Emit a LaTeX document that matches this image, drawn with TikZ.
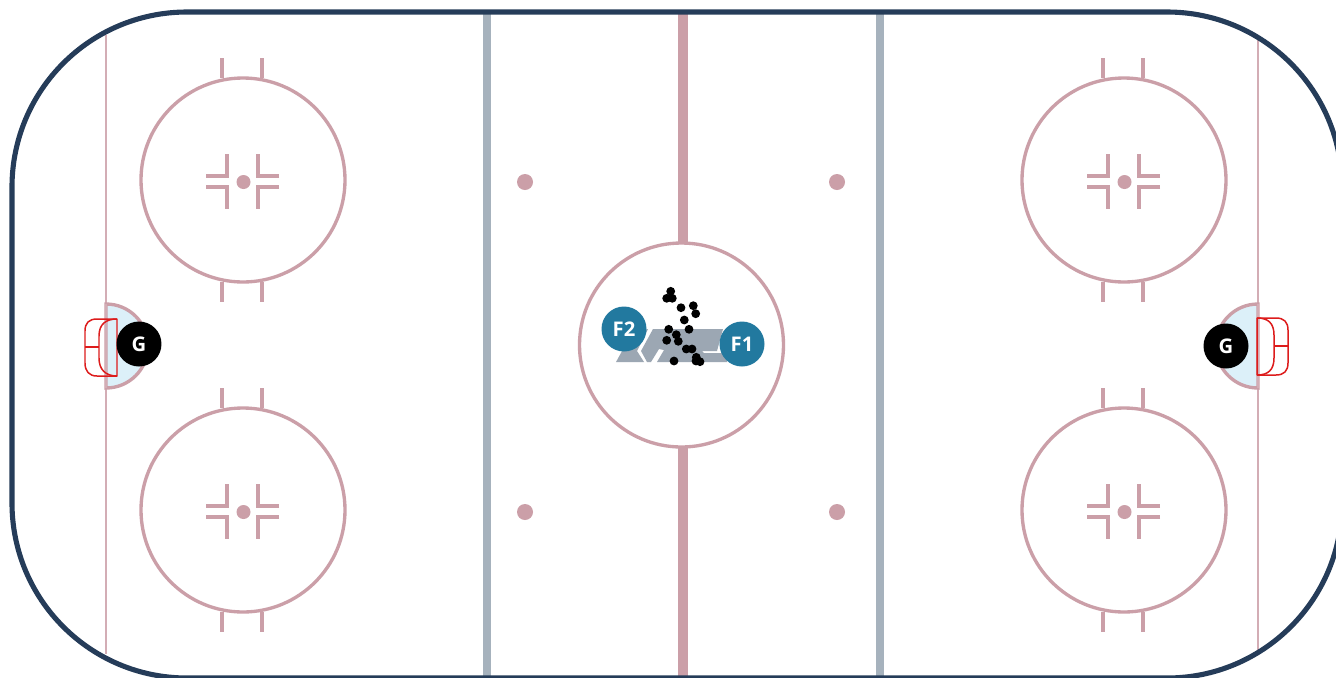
\documentclass[tikz,border=0pt]{standalone}
\usepackage{fontspec}
\setmainfont{Liberation Sans}
\setsansfont{Open Sans}
\definecolor{crink}{HTML}{CB9FA8}
\definecolor{cblueline}{HTML}{A6B2BD}
\definecolor{clogo}{HTML}{9CA7B3}
\definecolor{cboards}{HTML}{253C59}
\definecolor{ccrease}{HTML}{DCF0F9}
\definecolor{cnet}{HTML}{DD1C1C}
\definecolor{cforward}{HTML}{22799F}
\tikzset{
  every picture/.style={font=\sffamily, line width=0.9pt},
  rinkline/.style={draw=crink, line width=1.9pt},
  thinline/.style={draw=crink!85, line width=1.5pt},
  player/.style={circle, fill=#1, text=white, minimum size=0.9cm, inner sep=0pt, font=\sffamily\bfseries\fontsize{11.5}{12}\selectfont},
  player/.default=black,
  puck/.style={fill=black},
  net/.style={draw=cnet, line width=0.85pt, line join=round},
}
% one faceoff circle with its hash marks
\newcommand{\faceoffcircle}[2]{%
  \begin{scope}[shift={(#1,#2)}]
    \draw[rinkline] (0,0) circle (102);
    \draw[rinkline] (-21,-102) -- (-21,-122) (19,-102) -- (19,-122);
    \draw[rinkline] (-21,102) -- (-21,122) (19,102) -- (19,122);
    \fill[crink] (0.5,2) circle (7);
    \draw[rinkline] (-37,-4) -- (-16,-4) -- (-16,-26);
    \draw[rinkline] (36,-4) -- (15,-4) -- (15,-26);
    \draw[rinkline] (-37,7) -- (-16,7) -- (-16,29);
    \draw[rinkline] (36,7) -- (15,7) -- (15,29);
  \end{scope}}
\begin{document}
\begin{tikzpicture}[x=0.02cm, y=-0.02cm]
  \useasboundingbox (0,0) rectangle (1336,677);
  \clip (0,0) rectangle (1336,677);
  \fill[white] (0,0) rectangle (1336,677);
  % goal lines
  \draw[thinline] (106,35) -- (106,654);
  \draw[thinline] (1258,40) -- (1258,650);
  % blue and centre lines
  \draw[draw=cblueline, line width=4.5pt] (487,12) -- (487,678);
  \draw[draw=cblueline, line width=4.5pt] (880,12) -- (880,678);
  \draw[draw=crink, line width=5.5pt] (683,12) -- (683,243);
  \draw[draw=crink, line width=5.5pt] (683,447) -- (683,678);
  % neutral zone dots
  \fill[crink] (525,182) circle (8);
  \fill[crink] (837,182) circle (8);
  \fill[crink] (525,512) circle (8);
  \fill[crink] (837,512) circle (8);
  \faceoffcircle{243}{180}
  \faceoffcircle{1124}{180}
  \faceoffcircle{243}{510}
  \faceoffcircle{1124}{510}
  \draw[rinkline] (681.5,345) circle (102);
  % logo
  \fill[clogo] (648,329) -- (637,351) -- (644,362) -- (616,362) -- (632,333) -- cycle;
  \fill[clogo] (653,329) -- (723,329) -- (717,351) -- (702,351) -- (704,353) -- (727,353) -- (727,362) -- (657,362) -- (664,350) -- (659,349) -- (651,362) -- (647,362) -- (641,351) -- cycle;
  % creases
  \draw[rinkline, fill=ccrease] (106,304) arc (-90:90:42) -- cycle;
  \draw[rinkline, fill=ccrease] (1258,304) arc (-90:-270:42) -- cycle;
  \draw[thinline] (106,304) -- (106,388);
  \draw[thinline] (1258,304) -- (1258,388);
  % nets
  \draw[net] (117,319) -- (97,319) .. controls (89,319) and (85,323) .. (85,331) -- (85,363) .. controls (85,371) and (89,376) .. (97,376) -- (117,376) -- cycle;
  \draw[net] (117,319) .. controls (106,319) and (99,324) .. (99,336) -- (99,358) .. controls (99,370) and (106,376) .. (117,376);
  \draw[net] (85,347) -- (99,347);
  \draw[net] (1257,318) -- (1276,318) .. controls (1284,318) and (1288,322) .. (1288,330) -- (1288,363) .. controls (1288,371) and (1284,375) .. (1276,375) -- (1257,375) -- cycle;
  \draw[net] (1257,318) .. controls (1268,318) and (1274,323) .. (1274,335) -- (1274,358) .. controls (1274,370) and (1268,375) .. (1257,375);
  \draw[net] (1274,346) -- (1288,346);
  % boards
  \draw[draw=cboards, line width=2.9pt, rounded corners=3.5cm] (12,12) rectangle (1342,678);
  % players
  \node[player] (goalieleft) at (139,344) {G};
  \node[player] (goalieright) at (1226,346) {G};
  \node[player=cforward] (forwardtwo) at (624,329) {F2};
  \node[player=cforward] (forwardone) at (742,344) {F1};
  % pucks
  \foreach \px/\py in {670.7/291.3, 666.7/298.3, 672.3/298.3, 681/307.7, 693.3/305.7, 695.7/313.7, 684.3/320, 668.7/329.3, 689/329.3, 676.3/334.7, 666.7/340.3, 678.3/341.3, 686.3/349, 692/349, 696.3/357.3, 696/361, 700/361.7, 674/361}
    \fill[puck] (\px,\py) circle (4.4);
\end{tikzpicture}
\end{document}
